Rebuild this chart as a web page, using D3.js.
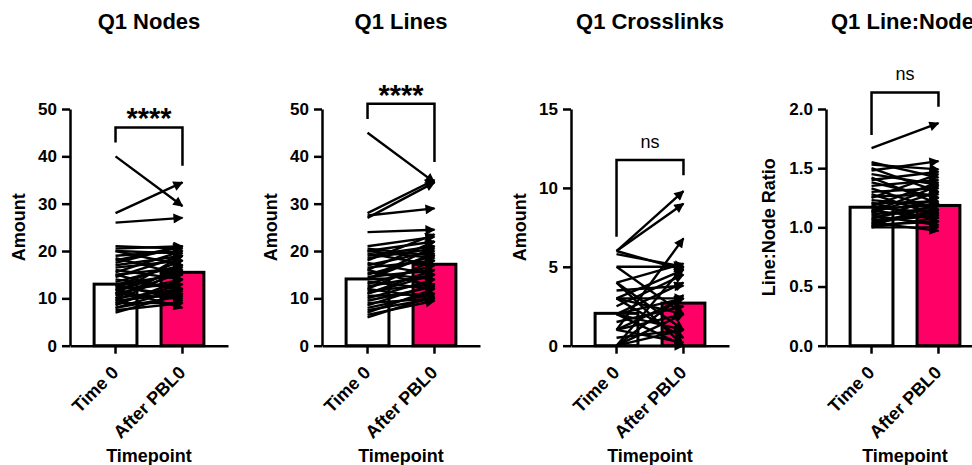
<!DOCTYPE html>
<html>
<head>
<meta charset="utf-8">
<script src="https://cdn.jsdelivr.net/npm/d3@7"></script>
<style>
  body { margin: 0; background: #fff; }
  svg { display: block; }
  text { font-family: "Liberation Sans", Arial, sans-serif; fill: #000; }
</style>
</head>
<body>
<div id="chart"></div>
<script>
// categories and labels
var categories = ["Time 0", "After PBL0"];
var titles = ["Q1 Nodes", "Q1 Lines", "Q1 Crosslinks", "Q1 Line:Node Ratio"];
var yLabels = ["Amount", "Amount", "Amount", "Line:Node Ratio"];
var sigLabels = ["****", "****", "ns", "ns"];

// y axis tick values per panel
var nodesTicks = [0, 10, 20, 30, 40, 50];
var linesTicks = [0, 10, 20, 30, 40, 50];
var crossTicks = [0, 5, 10, 15];
var ratioTicks = [0, 0.5, 1.0, 1.5, 2.0];

// bar heights (means)
var nodesMeans = [13.0, 15.5];
var linesMeans = [14.1, 17.2];
var crossMeans = [2.05, 2.7];
var ratioMeans = [1.17, 1.185];

// paired values, Time 0 -> After PBL0
var nodesTime0 = [40, 28, 26, 21, 20.5, 20, 19, 18.5, 18, 17, 16.5, 16, 15.5, 15, 14.5, 14, 13.5, 13, 12.5, 12, 11.5, 11, 11, 10.5, 10, 10, 9.5, 9, 9, 8.5, 8, 8, 7.5, 7, 12, 13, 20, 17.5, 15, 11, 9.5, 12.5];
var nodesAfter = [29.5, 34.5, 27, 20.5, 21, 17, 20, 15, 21, 19, 18, 14, 20, 16.5, 19, 12, 17, 15, 18, 13, 16, 14, 10, 15.5, 12, 17, 11, 13, 9, 14, 10.5, 12, 9, 11, 8, 9.5, 19.5, 21, 11.5, 19, 16, 10.5];

var linesTime0 = [45, 28, 27.5, 27, 24, 21, 20.5, 20, 19.5, 19, 18, 17.5, 17, 16.5, 16, 15.5, 15, 14.5, 14, 13.5, 13, 12.5, 12, 11.5, 11, 10.5, 10, 9.5, 9, 8.5, 8, 7.5, 7, 6.5, 6, 12, 20, 18.5, 16, 14, 11];
var linesAfter = [34.5, 35, 29, 34.5, 24.5, 23, 19, 22, 17, 21, 23.5, 15, 20, 18, 22, 14, 19, 16, 21, 12, 17, 15, 18, 13, 16, 11, 14, 12.5, 10, 13, 11, 10, 12, 9.5, 10.5, 10, 18.5, 20.5, 12.5, 19.5, 15];

var crossTime0 = [6, 6, 5.8, 6, 5, 5, 4, 4, 3.5, 3, 3, 3, 3, 2.5, 2, 2, 2, 1.5, 1, 1, 1, 1, 0.5, 0, 0, 0, 0, 0, 2, 4];
var crossAfter = [9.8, 9, 5, 4.8, 5, 2, 5.2, 1, 3.8, 4.8, 3, 0.5, 2, 4.5, 0, 3, 1, 2.5, 6.8, 3, 0.2, 2, 1, 5, 2, 0, 3.2, 1, 4, 0];

var ratioTime0 = [1.67, 1.55, 1.53, 1.50, 1.48, 1.45, 1.42, 1.40, 1.38, 1.35, 1.33, 1.30, 1.28, 1.26, 1.25, 1.23, 1.21, 1.20, 1.18, 1.17, 1.15, 1.14, 1.12, 1.11, 1.10, 1.08, 1.07, 1.05, 1.04, 1.03, 1.02, 1.01, 1.00, 1.00, 1.13, 1.06];
var ratioAfter = [1.88, 1.42, 1.49, 1.30, 1.56, 1.36, 1.20, 1.47, 1.25, 1.40, 1.15, 1.33, 1.10, 1.28, 1.45, 1.18, 1.05, 1.22, 1.38, 1.12, 1.20, 1.08, 1.30, 1.15, 1.02, 1.18, 1.25, 1.10, 0.97, 1.14, 1.05, 1.20, 1.08, 1.00, 1.35, 1.12];

// significance bracket levels in data units: [top, left leg end, right leg end]
var nodesBracket = [46.1, 42.9, 38];
var linesBracket = [51.1, 47.9, 38.8];
var crossBracket = [11.77, 6.9, 10.8];
var ratioBracket = [2.14, 1.78, 2.02];

var panels = [
  { ticks: nodesTicks, means: nodesMeans, t0: nodesTime0, t1: nodesAfter, bracket: nodesBracket, fmt: d3.format("d") },
  { ticks: linesTicks, means: linesMeans, t0: linesTime0, t1: linesAfter, bracket: linesBracket, fmt: d3.format("d") },
  { ticks: crossTicks, means: crossMeans, t0: crossTime0, t1: crossAfter, bracket: crossBracket, fmt: d3.format("d") },
  { ticks: ratioTicks, means: ratioMeans, t0: ratioTime0, t1: ratioAfter, bracket: ratioBracket, fmt: d3.format(".1f") }
];

var WIDTH = 972, HEIGHT = 465;
var axisXs = [70, 322, 571, 826];
var PLOT_W = 158;
var Y_TOP = 109, Y_BOTTOM = 345.7;
var PINK = "#ff0066";
var FONT = "'Liberation Sans', Arial, sans-serif";

var svg = d3.select("#chart").append("svg")
  .attr("width", WIDTH)
  .attr("height", HEIGHT);

svg.append("defs").append("marker")
  .attr("id", "arrow")
  .attr("viewBox", "0 0 10 10")
  .attr("refX", 9)
  .attr("refY", 5)
  .attr("markerUnits", "userSpaceOnUse")
  .attr("markerWidth", 12)
  .attr("markerHeight", 10)
  .attr("orient", "auto")
  .append("path")
  .attr("d", "M0,0 L10,5 L0,10 z")
  .attr("fill", "#000");

panels.forEach(function(p, i) {
  var ax = axisXs[i];
  var g = svg.append("g");

  var x = d3.scaleBand()
    .domain(categories)
    .range([ax, ax + PLOT_W])
    .padding(0.36);

  var y = d3.scaleLinear()
    .domain([0, p.ticks[p.ticks.length - 1]])
    .range([Y_BOTTOM, Y_TOP]);

  // bars
  g.selectAll("rect.bar")
    .data(categories)
    .enter().append("rect")
    .attr("class", "bar")
    .attr("x", function(d) { return x(d); })
    .attr("width", x.bandwidth())
    .attr("y", function(d, j) { return y(p.means[j]); })
    .attr("height", function(d, j) { return Y_BOTTOM - y(p.means[j]); })
    .attr("fill", function(d, j) { return j === 0 ? "#fff" : PINK; })
    .attr("stroke", "#000")
    .attr("stroke-width", 3);

  // paired lines with arrows
  var cx0 = x(categories[0]) + x.bandwidth() / 2;
  var cx1 = x(categories[1]) + x.bandwidth() / 2;
  g.selectAll("line.pair")
    .data(p.t0)
    .enter().append("line")
    .attr("class", "pair")
    .attr("x1", cx0)
    .attr("y1", function(d) { return y(d); })
    .attr("x2", cx1)
    .attr("y2", function(d, j) { return y(p.t1[j]); })
    .attr("stroke", "#000")
    .attr("stroke-width", 2.4)
    .attr("marker-end", "url(#arrow)");

  // significance bracket
  var b = p.bracket;
  g.append("path")
    .attr("d", "M" + cx0 + "," + y(b[1]) + "V" + y(b[0]) + "H" + cx1 + "V" + y(b[2]))
    .attr("fill", "none")
    .attr("stroke", "#000")
    .attr("stroke-width", 2.5);

  var isStars = sigLabels[i] !== "ns";
  g.append("text")
    .attr("x", (cx0 + cx1) / 2)
    .attr("y", y(b[0]) + (isStars ? 1 : -12))
    .attr("text-anchor", "middle")
    .style("font-size", isStars ? "29px" : "18px")
    .style("font-weight", isStars ? "bold" : "normal")
    .text(sigLabels[i]);

  // y axis
  var yAxis = d3.axisLeft(y)
    .tickValues(p.ticks)
    .tickFormat(p.fmt)
    .tickSize(8)
    .tickSizeOuter(0)
    .tickPadding(5);
  var yg = g.append("g")
    .attr("transform", "translate(" + ax + ",0)")
    .call(yAxis);
  yg.selectAll("path, line").attr("stroke", "#000").attr("stroke-width", 2.5);
  yg.selectAll("text")
    .style("font-size", "17px")
    .style("font-weight", "bold")
    .style("font-family", FONT)
    .attr("fill", "#000");

  // x axis
  var xAxis = d3.axisBottom(x)
    .tickSize(8)
    .tickSizeOuter(0);
  var xg = g.append("g")
    .attr("transform", "translate(0," + Y_BOTTOM + ")")
    .call(xAxis);
  xg.selectAll("path, line").attr("stroke", "#000").attr("stroke-width", 2.5);
  xg.selectAll("text")
    .attr("x", 0)
    .attr("y", 0)
    .attr("dy", 0)
    .attr("transform", "translate(4,28) rotate(-45)")
    .attr("text-anchor", "end")
    .style("font-size", "18px")
    .style("font-weight", "bold")
    .style("font-family", FONT)
    .attr("fill", "#000");

  // titles and axis labels
  var mid = ax + PLOT_W / 2;
  var last = i === titles.length - 1;
  g.append("text")
    .attr("x", last ? ax + 5 : mid)
    .attr("y", 29)
    .attr("text-anchor", last ? "start" : "middle")
    .style("font-size", "22px")
    .style("font-weight", "bold")
    .text(titles[i]);

  g.append("text")
    .attr("x", mid)
    .attr("y", 462)
    .attr("text-anchor", "middle")
    .style("font-size", "18px")
    .style("font-weight", "bold")
    .text("Timepoint");

  var off = last ? 51 : 45;
  g.append("text")
    .attr("transform", "translate(" + (ax - off) + "," + ((Y_TOP + Y_BOTTOM) / 2) + ") rotate(-90)")
    .attr("text-anchor", "middle")
    .style("font-size", "18px")
    .style("font-weight", "bold")
    .text(yLabels[i]);
});
</script>
</body>
</html>
